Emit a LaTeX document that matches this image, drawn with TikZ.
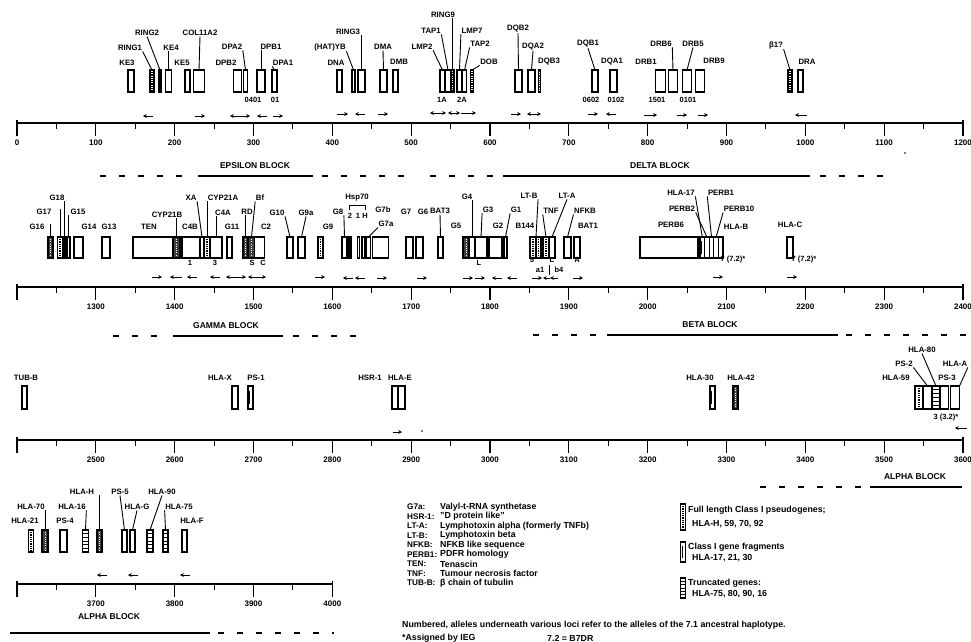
\documentclass[tikz,border=0pt]{standalone}
\usepackage{fontspec}
\setmainfont{Liberation Sans}
\usetikzlibrary{arrows.meta,calc}
\newcommand\glab[3]{\node[lab] (#1) at (#2) {#3};}
\newcommand\bxa[4][]{\node[gb,#1,minimum width=#3pt,minimum height=22pt] (#2) at (#4,81) {};}
\newcommand\bxb[4][]{\node[gb,#1,minimum width=#3pt,minimum height=21pt] (#2) at (#4,247.5) {};}
\newcommand\bxc[4][]{\node[gb,#1,minimum width=#3pt,minimum height=23pt] (#2) at (#4,397.5) {};}
\newcommand\bxd[4][]{\node[gb,#1,minimum width=#3pt,minimum height=22pt] (#2) at (#4,541) {};}
\newcommand\arR[3]{\draw[dirar] (#1,#3) -- (#2,#3);}
\newcommand\arL[3]{\draw[dirar] (#2,#3) -- (#1,#3);}
\newcommand\arB[3]{\draw[dirbar] (#1,#3) -- (#2,#3);}
\newcommand\axisrow[4]{%
  \draw[line width=1.4pt] (17,#1) -- ({17+#3*78.83},#1);
  \draw[line width=1.2pt] (17,{#1-3}) -- (17,{#1+13});
  \draw[line width=1.2pt] ({17+#3*78.83},{#1-3}) -- ({17+#3*78.83},{#1+13});
  \foreach \i in {1,...,#3}{\draw[line width=1.2pt] ({17+\i*78.83},#1) -- ({17+\i*78.83},{#1+13});}
  \foreach \i in {1,...,#3}{\draw[line width=1pt] ({17+(\i-0.5)*78.83},#1) -- ({17+(\i-0.5)*78.83},{#1+6});}
  \foreach \i in {1,...,#3}{\pgfmathtruncatemacro\axv{#2+\i*100}\node[axn] (#4\i) at ({17+\i*78.83},{#1+20}) {\axv};}
}
\begin{document}
\begin{tikzpicture}[x=1pt,y=-1pt,
  lab/.style={font=\fontsize{7.8}{9}\selectfont\bfseries, inner sep=0.5pt},
  num/.style={font=\fontsize{7.5}{9}\selectfont\bfseries, inner sep=0.5pt},
  axn/.style={font=\fontsize{8}{9}\selectfont\bfseries, inner sep=0.5pt},
  blk/.style={font=\fontsize{8.5}{9}\selectfont\bfseries, inner sep=0.5pt},
  leg/.style={font=\fontsize{8.8}{10}\selectfont\bfseries, inner sep=0pt, anchor=west},
  abb/.style={font=\fontsize{8.2}{10}\selectfont\bfseries, inner sep=0pt, anchor=west},
  gb/.style={draw, line width=1.1pt, fill=white, inner sep=0pt, outer sep=0pt},
  fp/.style={path picture={\draw[line width=1.4pt, dash pattern=on 0.9pt off 0.9pt] (path picture bounding box.north) -- (path picture bounding box.south);}},
  dk/.style={fill=black!75, path picture={\draw[white, line width=0.6pt, dash pattern=on 0.8pt off 1.4pt] (path picture bounding box.north) -- (path picture bounding box.south);}},
  tr/.style={path picture={\foreach \k in {1,...,5}{\draw[line width=0.7pt] ($(path picture bounding box.north west)!\k/6!(path picture bounding box.south west)$) -- ($(path picture bounding box.north east)!\k/6!(path picture bounding box.south east)$);}}},
  fr/.style={path picture={\draw[line width=0.7pt] ($(path picture bounding box.north west)!0.2!(path picture bounding box.south west)+(1.6,0)$) -- ($(path picture bounding box.north west)!0.8!(path picture bounding box.south west)+(1.6,0)$);}},
  conn/.style={line width=0.9pt},
  dirar/.style={line width=0.9pt, -{Stealth[length=3.8pt,width=3.8pt]}},
  dirbar/.style={line width=0.9pt, {Stealth[length=3.8pt,width=3.8pt]}-{Stealth[length=3.8pt,width=3.8pt]}},
  bdash/.style={line width=2pt, dash pattern=on 6pt off 13pt},
  bsolid/.style={line width=1.7pt}
]
\useasboundingbox[fill=white] (0,0) rectangle (971,641);

% ================= ROW 1 =================
\axisrow{123}{0}{12}{ra}
\node[axn] (ra0) at (17,143) {0};

\bxa{bKE3}{6}{131}
\bxa[fp]{bRING1}{4}{152}
\bxa{bRING2}{2}{160}
\bxa{bKE4}{6}{168.5}
\bxa{bKE5}{5}{187.5}
\bxa{bCOL}{11}{199}
\bxa{bDPB2}{8}{237.5}
\bxa{bDPA2}{4}{245.5}
\bxa{bDPB1}{8}{261}
\bxa{bDPA1}{5}{274.5}
\glab{lKE3}{127,63}{KE3}
\glab{lRING1}{130,48}{RING1}
\glab{lRING2}{147,33}{RING2}
\glab{lKE4}{171,48}{KE4}
\glab{lKE5}{182,63}{KE5}
\glab{lCOL}{200,33}{COL11A2}
\glab{lDPA2}{232,47}{DPA2}
\glab{lDPB2}{226,63}{DPB2}
\glab{lDPB1}{271,47}{DPB1}
\glab{lDPA1}{283,63}{DPA1}
\draw[conn] (lRING1.south east) -- (bRING1.north);
\draw[conn] (lRING2.south) -- (bRING2.north);
\draw[conn] (bKE4.north) -- (bKE4.north |- lKE4.south);
\draw[conn] (lCOL.south) -- (bCOL.north);
\draw[conn] (lDPA2.south east) -- (bDPA2.north);
\draw[conn] (bDPB1.north) -- (bDPB1.north |- lDPB1.south);
\draw[conn] (lDPA1.south west) -- (bDPA1.north);
\node[num] (aDPB1) at (253,100) {0401};
\node[num] (aDPA1) at (275,100) {01};

\bxa{bDNA}{5}{339.5}
\bxa{bHATY}{3}{353.5}
\bxa{bRING3}{7}{361.5}
\bxa{bDMA}{7}{383.5}
\bxa{bDMB}{5}{395.5}
\bxa{bLMP2}{5}{442.5}
\bxa{bTAP1}{6}{448}
\bxa[fp]{bRING9}{3}{452.5}
\bxa{bLMP7}{5}{459.5}
\bxa{bTAP2}{4}{464.5}
\bxa[fp]{bDOB}{3}{472}
\bxa{bDQB2}{7}{518.5}
\bxa{bDQA2}{7}{531.5}
\bxa[dk]{bDQB3}{2.5}{539.5}
\bxa{bDQB1}{6}{595}
\bxa{bDQA1}{7}{613.5}
\bxa{bDRB1}{10}{660.5}
\bxa{bDRB6}{9}{673}
\bxa{bDRB5}{9}{687}
\bxa{bDRB9}{9}{700}
\bxa[fp]{bB1}{4}{790}
\bxa{bDRA}{5}{800.5}
\glab{lHATY}{330,47}{(HAT)YB}
\glab{lRING3}{348,32}{RING3}
\glab{lDNA}{336,63}{DNA}
\glab{lDMA}{383,47}{DMA}
\glab{lDMB}{399,62}{DMB}
\glab{lRING9}{443,15}{RING9}
\glab{lTAP1}{431,31}{TAP1}
\glab{lLMP7}{472,31}{LMP7}
\glab{lLMP2}{422,47}{LMP2}
\glab{lTAP2}{480,44}{TAP2}
\glab{lDOB}{489,62}{DOB}
\glab{lDQB2}{518,29}{DQB2}
\glab{lDQA2}{533,47}{DQA2}
\glab{lDQB3}{549,62}{DQB3}
\glab{lDQB1}{588,44}{DQB1}
\glab{lDQA1}{612,62}{DQA1}
\glab{lDRB6}{661,44}{DRB6}
\glab{lDRB5}{693,44}{DRB5}
\glab{lDRB1}{646,62}{DRB1}
\glab{lDRB9}{714,61}{DRB9}
\glab{lB1}{776,45}{β1?}
\glab{lDRA}{807,62}{DRA}
\draw[conn] (lHATY.south east) -- (bHATY.north);
\draw[conn] (bRING3.north) -- (bRING3.north |- lRING3.south);
\draw[conn] (lDMA.south) -- (bDMA.north);
\draw[conn] (bRING9.north) -- (bRING9.north |- lRING9.south);
\draw[conn] (lTAP1.south east) -- (bTAP1.north);
\draw[conn] (lLMP7.south west) -- (bLMP7.north);
\draw[conn] (lLMP2.south east) -- (bLMP2.north);
\draw[conn] (lTAP2.south west) -- (bTAP2.north);
\draw[conn] (lDOB.south west) -- (bDOB.north);
\draw[conn] (lDQB2.south) -- (bDQB2.north);
\draw[conn] (lDQA2.south) -- (bDQA2.north);
\draw[conn] (lDQB1.south) -- (bDQB1.north);
\draw[conn] (lDRB6.south east) -- (bDRB6.north);
\draw[conn] (lDRB5.south) -- (bDRB5.north);
\draw[conn] (lB1.south east) -- (bB1.north);
\node[num] (a1A) at (442,100) {1A};
\node[num] (a2A) at (462,100) {2A};
\node[num] (aDQB1) at (591,100) {0602};
\node[num] (aDQA1) at (616,100) {0102};
\node[num] (aDRB1) at (657,100) {1501};
\node[num] (aDRB5) at (688,100) {0101};

\arL{143}{153}{116} \arR{195}{205}{116} \arB{230}{250}{116} \arL{257}{267}{116} \arR{273}{283}{116}
\arR{337}{348}{114} \arL{355}{365}{114} \arR{378}{388}{114}
\arB{430}{446}{113} \arB{448}{460}{113} \arR{461}{476}{113}
\arR{511}{521}{114} \arB{527}{541}{114}
\arR{588}{598}{114} \arL{606}{616}{114}
\arR{644}{657}{115} \arR{677}{687}{115} \arR{698}{708}{115}
\arL{795}{807}{115}
\fill (905,153) circle (0.9);

% blocks under row 1
\node[blk] (kEps) at (255,166) {EPSILON BLOCK};
\node[blk] (kDel) at (660,166) {DELTA BLOCK};
\draw[bdash] (100,176) -- (188,176);
\draw[bsolid] (198,176) -- (313,176);
\draw[bdash] (322,176) -- (405,176);
\draw[bdash] (430,176) -- (495,176);
\draw[bsolid] (503,176) -- (810,176);
\draw[bdash] (820,176) -- (885,176);

% ================= ROW 2 =================
\axisrow{287}{1200}{12}{rb}

\bxb[dk]{bG16}{5}{50.5}
\bxb[fp]{bG17}{5}{60}
\bxb{bG18}{1.5}{64.75}
\bxb{bG15}{3}{68.5}
\bxb{bG14}{9}{78.5}
\bxb{bG13}{8}{106}
\bxb{bTEN}{40}{153}
\bxb[dk]{bCYPB}{7}{176.5}
\bxb{bC4B}{18}{191}
\bxb{bXA}{3}{202}
\bxb[fp]{bCYPA}{5}{207}
\bxb{bC4A}{12}{216}
\bxb{bG11}{5}{229.5}
\bxb[dk]{bRD}{5}{245.5}
\bxb[dk]{bBf}{6}{251.5}
\bxb{bC2}{10}{259.5}
\bxb{bG10}{6}{290}
\bxb{bG9a}{7}{301.5}
\bxb[fp]{bG9}{5}{320.5}
\glab{lG16}{37,227}{G16}
\glab{lG17}{44,212}{G17}
\glab{lG18}{57,198}{G18}
\glab{lG15}{78,212}{G15}
\glab{lG14}{89,227}{G14}
\glab{lG13}{109,227}{G13}
\glab{lTEN}{149,227}{TEN}
\glab{lCYPB}{167,215}{CYP21B}
\glab{lXA}{191,198}{XA}
\glab{lCYPA}{223,198}{CYP21A}
\glab{lC4B}{190,227}{C4B}
\glab{lC4A}{223,213}{C4A}
\glab{lG11}{232,227}{G11}
\glab{lRD}{247,212}{RD}
\glab{lBf}{260,198}{Bf}
\glab{lC2}{266,227}{C2}
\glab{lG10}{277,213}{G10}
\glab{lG9a}{306,213}{G9a}
\glab{lG9}{328,227}{G9}
\draw[conn] (bG16.north) -- (bG16.north |- lG16.north);
\draw[conn] (bG17.north) -- (bG17.north |- lG17.north);
\draw[conn] (bG18.north) -- (bG18.north |- lG18.south);
\draw[conn] (bG15.north) -- (bG15.north |- lG15.south);
\draw[conn] (bCYPB.north) -- (bCYPB.north |- lCYPB.south);
\draw[conn] (lXA.south east) -- (bXA.north);
\draw[conn] (bCYPA.north) -- (bCYPA.north |- lCYPA.south);
\draw[conn] (bC4A.north) -- (bC4A.north |- lC4A.south);
\draw[conn] (bRD.north) -- (bRD.north |- lRD.south);
\draw[conn] (lBf.south west) -- (bBf.north);
\draw[conn] (lG10.south east) -- (bG10.north);
\draw[conn] (lG9a.south) -- (bG9a.north);
\node[num] (aC4B) at (190,263) {1};
\node[num] (aC4A) at (215,263) {3};
\node[num] (aBf) at (252,263) {S};
\node[num] (aC2) at (263,263) {C};

\bxb{bG8}{5}{344.5}
\bxb{bH2}{2}{350}
\bxb{bH1}{2.5}{358.5}
\bxb{bHH}{3}{363.5}
\bxb{bG7b}{4}{368.5}
\bxb{bG7a}{16}{380.5}
\bxb{bG7}{7}{409.5}
\bxb{bG6}{7}{419.5}
\bxb{bBAT3}{5}{440.5}
\bxb[dk]{bG5}{6}{466}
\bxb{bG4}{6}{472}
\bxb{bG3}{12}{481}
\bxb{bG2}{13}{495.5}
\bxb{bG1}{3}{505.5}
\bxb[fp]{bLTB}{6}{533}
\bxb[fp]{bLTX}{5}{538.5}
\bxb[fp]{bTNF}{6}{546}
\bxb{bLTA}{6}{552}
\bxb{bNFKB}{7}{567.5}
\bxb{bBAT1}{6}{577}
\glab{lG8}{338,212}{G8}
\glab{lHsp}{357,198}{Hsp70}
\draw[conn] ($(lHsp.south)+(-8,8)$) -- ++(0,-5) -- ++(16,0) -- ++(0,5);
\node[num] (h2) at (350,216) {2};
\node[num] (h1) at (358,216) {1};
\node[num] (hH) at (365,216) {H};
\glab{lG7b}{383,210}{G7b}
\glab{lG7a}{386,224}{G7a}
\glab{lG7}{406,212}{G7}
\glab{lG6}{423,212}{G6}
\glab{lBAT3}{440,211}{BAT3}
\glab{lG5}{456,226}{G5}
\glab{lG4}{467,197}{G4}
\glab{lG3}{488,210}{G3}
\glab{lG2}{498,226}{G2}
\glab{lG1}{516,210}{G1}
\glab{lB144}{525,226}{B144}
\glab{lLTB}{529,196}{LT-B}
\glab{lTNF}{551,211}{TNF}
\glab{lLTA}{567,196}{LT-A}
\glab{lNFKB}{585,211}{NFKB}
\glab{lBAT1}{588,226}{BAT1}
\draw[conn] (lG8.south east) -- (bG8.north);
\draw[conn] (lG7a.south west) -- (bG7b.north);
\draw[conn] (lBAT3.south) -- (bBAT3.north);
\draw[conn] (bG4.north) -- (bG4.north |- lG4.south);
\draw[conn] (lG3.south west) -- (bG3.north);
\draw[conn] (lG1.south west) -- (bG1.north);
\draw[conn] (lLTB.south east) -- (bLTB.north east);
\draw[conn] (lTNF.south west) -- (bTNF.north);
\draw[conn] (lLTA.south) -- (bLTA.north);
\draw[conn] (lNFKB.south west) -- (bNFKB.north);
\node[num] (aG3) at (479,263) {L};
\node[num] (aLTB) at (532,260) {5};
\node[num] (aLTA) at (552,260) {L};
\node[num] (aBAT1) at (577,260) {A};
\node[num] (aa1) at (540,270) {a1};
\node[num] (ab4) at (559,270) {b4};
\draw[line width=0.7pt] ($(aa1.east)!0.5!(ab4.west)+(0,-5)$) -- ++(0,10);

\bxb{bPERB6}{58}{669}
\bxb[fr]{bHLA17}{4.6}{702.3}
\bxb{bPERB2}{4.6}{706.9}
\bxb{bPERB1}{4.6}{711.5}
\bxb{bPERB10}{4.6}{716.1}
\bxb{bHLAB}{4.6}{720.7}
\bxb{bHLAC}{6}{790}
\glab{lHLA17}{681,193}{HLA-17}
\glab{lPERB1}{721,193}{PERB1}
\glab{lPERB2}{682,209}{PERB2}
\glab{lPERB10}{739,209}{PERB10}
\glab{lPERB6}{671,225}{PERB6}
\glab{lHLAB}{736,227}{HLA-B}
\glab{lHLAC}{790,225}{HLA-C}
\draw[conn] (lHLA17.south east) -- (bHLA17.north);
\draw[conn] (lPERB2.south east) -- (bPERB2.north);
\draw[conn] (lPERB1.south west) -- (bPERB1.north);
\draw[conn] (lPERB10.south west) -- (bPERB10.north);
\node[num] (aHLAB) at (733,260) {7 (7.2)*};
\node[num] (aHLAC) at (804,260) {7 (7.2)*};

\arR{152}{162}{277} \arL{170}{182}{277} \arL{187}{197}{277} \arL{210}{220}{277}
\arB{226}{246}{277} \arB{248}{266}{277} \arR{315}{325}{277}
\arL{343}{353}{278} \arL{355}{365}{278} \arR{377}{387}{278} \arR{417}{427}{278}
\arR{463}{473}{278} \arR{475}{485}{278} \arL{492}{502}{278} \arL{507}{517}{278}
\arR{532}{542}{278} \arL{543}{550}{278} \arL{550}{558}{278} \arR{573}{583}{278}
\arR{713}{723}{277} \arR{787}{797}{277}

% blocks under row 2
\node[blk] (kGam) at (226,326) {GAMMA BLOCK};
\draw[bdash] (113,336) -- (160,336);
\draw[bsolid] (173,336) -- (283,336);
\draw[bdash] (293,336) -- (356,336);
\node[blk] (kBeta) at (710,325) {BETA BLOCK};
\draw[bdash] (533,335) -- (596,335);
\draw[bsolid] (607,335) -- (838,335);
\draw[bdash] (846,335) -- (971,335);

% ================= ROW 3 =================
\axisrow{440}{2400}{12}{rc}
\bxc{bTUBB}{5}{24.5}
\bxc{bHLAX}{6}{235}
\bxc[fr]{bPS1}{5}{250.5}
\bxc{bHSR1}{6}{395}
\bxc{bHLAE}{7}{401.5}
\bxc[fr]{bHLA30}{5}{712.5}
\bxc[dk]{bHLA42}{5}{735.5}
\bxc[fp]{bHLA59}{8}{919}
\bxc{bPS2}{8}{927.5}
\bxc[tr]{bHLA80}{8}{936}
\bxc{bPS3}{8}{944.5}
\bxc{bHLAA}{9}{955}
\glab{lTUBB}{26,378}{TUB-B}
\glab{lHLAX}{220,378}{HLA-X}
\glab{lPS1}{256,378}{PS-1}
\glab{lHSR1}{370,378}{HSR-1}
\glab{lHLAE}{400,378}{HLA-E}
\glab{lHLA30}{700,378}{HLA-30}
\glab{lHLA42}{741,378}{HLA-42}
\glab{lHLA59}{896,378}{HLA-59}
\glab{lPS2}{904,364}{PS-2}
\glab{lHLA80}{922,350}{HLA-80}
\glab{lHLAA}{955,364}{HLA-A}
\glab{lPS3}{947,378}{PS-3}
\draw[conn] (lPS2.south east) -- (bPS2.north);
\draw[conn] (lHLA80.south) -- (bHLA80.north);
\draw[conn] (lHLAA.south east) -- (bHLAA.north east);
\node[num] (aHLAA) at (946,418) {3 (3.2)*};
\arR{393}{402}{432}
\fill (422,431) circle (0.9);
\arL{955}{967}{428}

\node[blk] (kAlpha1) at (915,477) {ALPHA BLOCK};
\draw[bdash] (760,487) -- (866,487);
\draw[bsolid] (870,487) -- (962,487);

% ================= ROW 4 =================
\axisrow{584}{3600}{4}{rd}
\bxd[fp]{bHLA21}{4.5}{31}
\bxd[dk]{bHLA70}{6}{45}
\bxd{bPS4}{7}{63.5}
\bxd[tr]{bHLA16}{5.5}{85.5}
\bxd[dk]{bHLAH}{5}{99.5}
\bxd{bPS5}{5}{124.5}
\bxd{bHLAG}{5}{132.5}
\bxd[tr]{bHLA90}{6}{150}
\bxd[tr]{bHLA75}{5}{165.5}
\bxd{bHLAF}{5}{184.5}
\glab{lHLAH}{82,492}{HLA-H}
\glab{lHLA70}{31,507}{HLA-70}
\glab{lHLA16}{72,507}{HLA-16}
\glab{lHLA21}{25,521}{HLA-21}
\glab{lPS4}{65,521}{PS-4}
\glab{lPS5}{120,492}{PS-5}
\glab{lHLAG}{137,507}{HLA-G}
\glab{lHLA90}{162,492}{HLA-90}
\glab{lHLA75}{179,507}{HLA-75}
\glab{lHLAF}{192,521}{HLA-F}
\draw[conn] (bHLAH.north) -- (bHLAH.north |- lHLAH.south);
\draw[conn] (bHLA70.north) -- (bHLA70.north |- lHLA70.south);
\draw[conn] (lHLA16.south east) -- (bHLA16.north);
\draw[conn] (lPS5.south) -- (bPS5.north);
\draw[conn] (lHLAG.south) -- (bHLAG.north);
\draw[conn] (lHLA90.south) -- (bHLA90.north);
\draw[conn] (lHLA75.south west) -- (bHLA75.north);
\arL{97}{107}{575} \arL{128}{138}{575} \arL{180}{190}{575}

\node[blk] (kAlpha2) at (109,617) {ALPHA BLOCK};
\draw[bsolid] (10,633) -- (210,633);
\draw[bdash] (218,633) -- (334,633);

% ================= LEGEND =================
\node[abb] (g1) at (407,507) {G7a:};
\node[abb] (g2) at (407,516.5) {HSR-1:};
\node[abb] (g3) at (407,526) {LT-A:};
\node[abb] (g4) at (407,535.5) {LT-B:};
\node[abb] (g5) at (407,545) {NFKB:};
\node[abb] (g6) at (407,554.5) {PERB1:};
\node[abb] (g7) at (407,564) {TEN:};
\node[abb] (g8) at (407,573.5) {TNF:};
\node[abb] (g9) at (407,583) {TUB-B:};
\node[leg] (d1) at (440,507) {Valyl-t-RNA synthetase};
\node[leg] (d2) at (440,516.5) {"D protein like"};
\node[leg] (d3) at (440,526) {Lymphotoxin alpha (formerly TNFb)};
\node[leg] (d4) at (440,535.5) {Lymphotoxin beta};
\node[leg] (d5) at (440,545) {NFKB like sequence};
\node[leg] (d6) at (440,554.5) {PDFR homology};
\node[leg] (d7) at (440,564) {Tenascin};
\node[leg] (d8) at (440,573.5) {Tumour necrosis factor};
\node[leg] (d9) at (440,583) {β chain of tubulin};

\node[gb,fp,minimum width=5pt,minimum height=26pt] (iFull) at (683,517) {};
\node[leg] (tFull1) at (688,510) {Full length Class I pseudogenes;};
\node[leg] (tFull2) at (692,524) {HLA-H, 59, 70, 92};
\node[gb,fr,minimum width=5pt,minimum height=20pt] (iFrag) at (683,552) {};
\node[leg] (tFrag1) at (688,547) {Class I gene fragments};
\node[leg] (tFrag2) at (692,558) {HLA-17, 21, 30};
\node[gb,tr,minimum width=5pt,minimum height=20pt] (iTr) at (683,588) {};
\node[leg] (tTr1) at (688,583) {Truncated genes:};
\node[leg] (tTr2) at (692,594) {HLA-75, 80, 90, 16};

\node[leg] (fn1) at (402,625) {Numbered, alleles underneath various loci refer to the alleles of the 7.1 ancestral haplotype.};
\node[leg] (fn2) at (402,638) {*Assigned by IEG};
\node[leg] (fn3) at (547,638) {7.2 = B7DR};
\end{tikzpicture}
\end{document}
